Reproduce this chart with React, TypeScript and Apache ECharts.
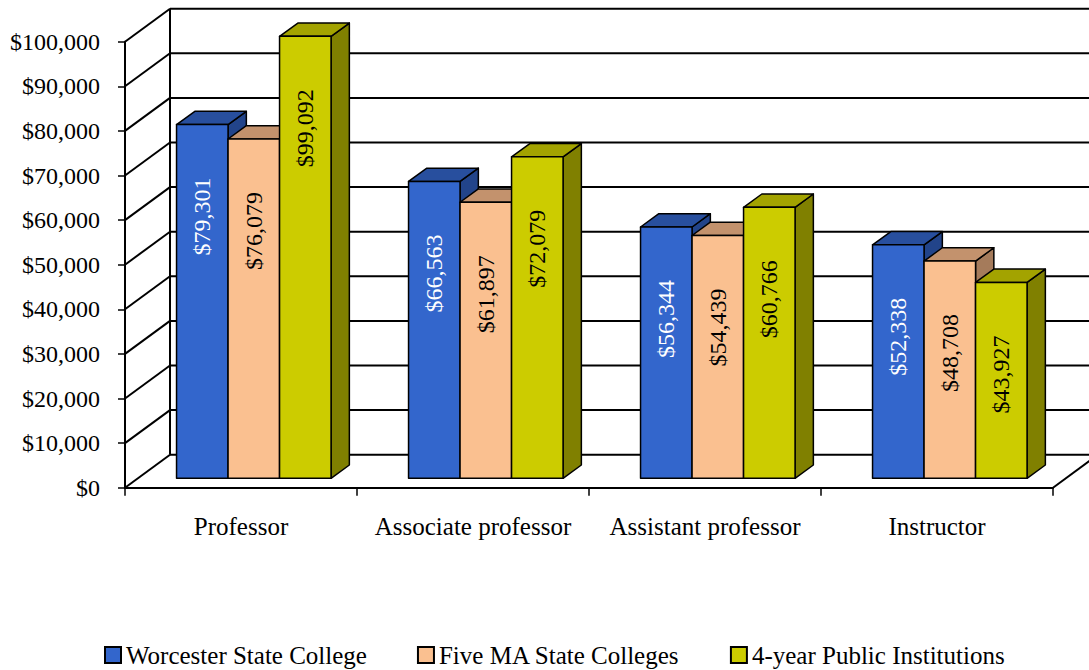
import React, { useEffect, useRef } from 'react';
import * as echarts from 'echarts';

const categories = ['Professor', 'Associate professor', 'Assistant professor', 'Instructor'];
const worcester = [79301, 66563, 56344, 52338];
const fiveMA = [76079, 61897, 54439, 48708];
const fourYear = [99092, 72079, 60766, 43927];
const seriesNames = ['Worcester State College', 'Five MA State Colleges', '4-year Public Institutions'];
const seriesValues = [worcester, fiveMA, fourYear];
const yTicks = [0, 10000, 20000, 30000, 40000, 50000, 60000, 70000, 80000, 90000, 100000];

const FACES = [
  { front: '#3366CC', top: '#284F9E', side: '#22448A', label: '#FFFFFF' },
  { front: '#FAC090', top: '#C3926D', side: '#A57B5B', label: '#000000' },
  { front: '#CCCC00', top: '#A3A300', side: '#808000', label: '#000000' },
];

const FONT = '"Liberation Serif", "Times New Roman", serif';
const WALL_DX = 45;
const WALL_DY = -33;
const BAR_OFF_X = 12.8;
const BAR_OFF_Y = -9.4;
const BAR_DX = 18.3;
const BAR_DY = -13.3;

const fmt = (v: number) => '$' + v.toLocaleString('en-US');

export default function App() {
  const ref = useRef<HTMLDivElement>(null);
  useEffect(() => {
    if (!ref.current) return;
    const chart = echarts.init(ref.current, null, { renderer: 'svg' });

    const wallSeries = {
      type: 'custom',
      name: 'wall',
      z: 1,
      silent: true,
      encode: { x: 0, y: 1 },
      data: yTicks.map((v) => [0, v]),
      renderItem: (params: any, api: any) => {
        const cs = params.coordSys;
        const v = api.value(1);
        const y = api.coord([0, v])[1];
        const x0 = cs.x;
        const right = cs.x + cs.width;
        const ls = { stroke: '#000', lineWidth: 2 };
        const children: any[] = [
          { type: 'line', shape: { x1: x0, y1: y, x2: x0 + WALL_DX, y2: y + WALL_DY }, style: ls },
          { type: 'line', shape: { x1: x0 + WALL_DX, y1: y + WALL_DY, x2: right + WALL_DX, y2: y + WALL_DY }, style: ls },
        ];
        if (params.dataIndex === 0) {
          const topY = api.coord([0, yTicks[yTicks.length - 1]])[1];
          children.push({ type: 'line', shape: { x1: x0 + WALL_DX, y1: y + WALL_DY, x2: x0 + WALL_DX, y2: topY + WALL_DY }, style: ls });
          children.push({ type: 'line', shape: { x1: right, y1: y, x2: right + WALL_DX, y2: y + WALL_DY }, style: ls });
        }
        return { type: 'group', children };
      },
    };

    const barSeries = seriesValues.map((vals, si) => ({
      type: 'custom',
      name: seriesNames[si],
      z: 2 + si,
      itemStyle: { color: FACES[si].front },
      encode: { x: 0, y: 1 },
      data: vals.map((v, ci) => [ci, v]),
      renderItem: (params: any, api: any) => {
        const cat = api.value(0);
        const v = api.value(1);
        const band = api.size([1, 0])[0];
        const top = api.coord([cat, v]);
        const base = api.coord([cat, 0]);
        const w = band * 0.222;
        const x0 = top[0] - 1.5 * w + si * w + BAR_OFF_X;
        const x1 = x0 + w;
        const yT = top[1] + BAR_OFF_Y;
        const yB = base[1] + BAR_OFF_Y;
        const f = FACES[si];
        const stroke = { stroke: '#000', lineWidth: 1.5, lineJoin: 'round' };
        return {
          type: 'group',
          children: [
            {
              type: 'polygon',
              shape: { points: [[x1, yT], [x1 + BAR_DX, yT + BAR_DY], [x1 + BAR_DX, yB + BAR_DY], [x1, yB]] },
              style: { fill: f.side, ...stroke },
            },
            {
              type: 'polygon',
              shape: { points: [[x0, yT], [x1, yT], [x1 + BAR_DX, yT + BAR_DY], [x0 + BAR_DX, yT + BAR_DY]] },
              style: { fill: f.top, ...stroke },
            },
            {
              type: 'polygon',
              shape: { points: [[x0, yT], [x1, yT], [x1, yB], [x0, yB]] },
              style: { fill: f.front, ...stroke },
            },
            {
              type: 'text',
              x: x0 + w / 2,
              y: yT + 92,
              rotation: Math.PI / 2,
              style: {
                text: fmt(v),
                x: 0,
                y: 0,
                align: 'center',
                verticalAlign: 'middle',
                fill: f.label,
                fontSize: 24,
                fontFamily: 'Liberation Serif',
                fontWeight: 'normal',
              },
            },
          ],
        };
      },
    }));

    chart.setOption({
      animation: false,
      backgroundColor: '#ffffff',
      grid: { left: 125, right: 36, top: 41.7, bottom: 182.3, containLabel: false },
      xAxis: {
        type: 'category',
        data: categories,
        boundaryGap: true,
        axisLine: { show: true, lineStyle: { color: '#000', width: 2 } },
        axisTick: { show: true, interval: 0, length: 8, lineStyle: { color: '#000', width: 1.5 } },
        axisLabel: { interval: 0, margin: 26, fontSize: 25, fontFamily: FONT, color: '#000' },
        splitLine: { show: false },
      },
      yAxis: {
        type: 'value',
        min: 0,
        max: 100000,
        interval: 10000,
        axisLine: { show: true, lineStyle: { color: '#000', width: 2 } },
        axisTick: { show: true, length: 7, lineStyle: { color: '#000', width: 1.5 } },
        axisLabel: { margin: 25, fontSize: 24, fontFamily: FONT, color: '#000', formatter: (v: number) => fmt(v) },
        splitLine: { show: false },
      },
      legend: {
        data: seriesNames,
        left: 104,
        top: 642,
        padding: 0,
        icon: 'rect',
        itemWidth: 16,
        itemHeight: 16,
        itemGap: 50,
        itemStyle: { borderColor: '#000', borderWidth: 2 },
        textStyle: { fontSize: 25, lineHeight: 26, fontFamily: FONT, color: '#000' },
      },
      series: [wallSeries, ...barSeries],
    });
    return () => chart.dispose();
  }, []);
  return <div ref={ref} style={{ position: 'fixed', left: 0, top: 0, width: 1089, height: 670 }} />;
}
